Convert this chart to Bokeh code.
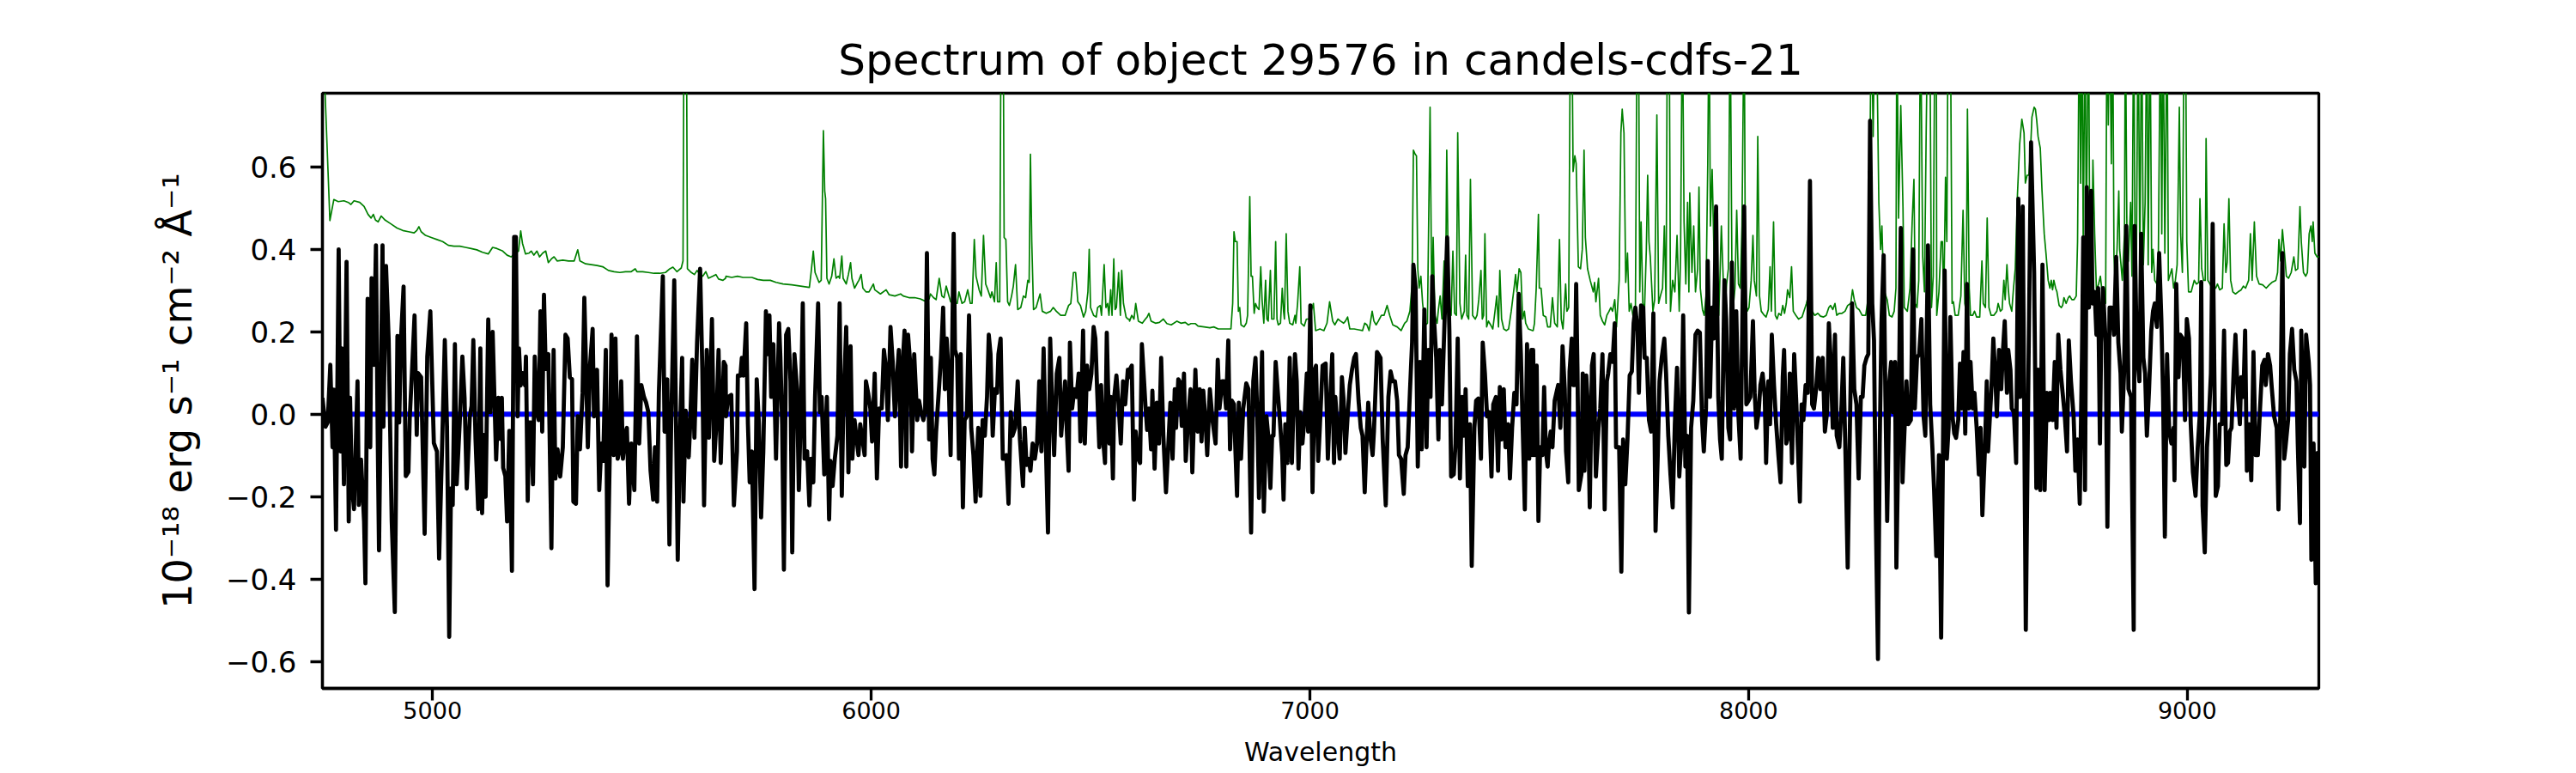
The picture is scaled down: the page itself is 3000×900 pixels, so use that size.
from bokeh.plotting import figure
from bokeh.models import Range1d, FixedTicker, CustomJSTickFormatter
from bokeh.embed import file_html
from bokeh.resources import INLINE

TITLE = "Spectrum of object 29576 in candels-cdfs-21"
X_LABEL = "Wavelength"
Y_LABEL = "10\u207b\u00b9\u2078 erg s\u207b\u00b9 cm\u207b\u00b2 \u00c5\u207b\u00b9"
X_TICKS = [5000, 6000, 7000, 8000, 9000]
Y_TICKS = [-0.6, -0.4, -0.2, 0.0, 0.2, 0.4, 0.6]
X_LIMITS = (4749, 9300)
Y_LIMITS = (-0.665, 0.779)

flux_pts_1 = [(4749,0.04),(4756,-0.03),(4761,-0.02),(4767,0.12),(4772,-0.08),(4775,0.06),(4780,-0.28),(4786,0.40),(4790,-0.09),(4793,0.16),(4798,-0.17),(4804,0.37),(4809,-0.26),(4812,0.04),(4816,-0.17),(4821,-0.23),(4829,0.08),(4832,-0.22),(4837,-0.11),(4844,-0.26),(4847,-0.41),(4852,0.28),(4858,-0.08),(4861,0.33),(4866,0.12),(4871,0.41),(4875,-0.05),(4878,-0.33),(4886,0.41),(4888,-0.03),(4894,0.36),(4900,0.18),(4907,-0.26),(4914,-0.48),(4920,0.19),(4924,-0.02),(4928,0.18),(4934,0.31),(4939,-0.15),(4945,-0.14),(4948,-0.01),(4953,0.10),(4959,0.24),(4964,-0.05),(4967,0.10),(4974,0.09),(4982,-0.29),(4988,0.14),(4995,0.25),(5003,-0.07),(5010,-0.09),(5015,-0.35),(5022,-0.07),(5028,0.18),(5033,-0.03),(5038,-0.54),(5042,-0.18),(5046,-0.22),(5051,0.17),(5055,-0.17),(5062,-0.02),(5068,0.14),(5073,0.04),(5078,-0.18),(5085,-0.005),(5089,0.02),(5093,0.18),(5098,-0.06),(5104,-0.23),(5109,0.16),(5113,-0.24),(5117,-0.05),(5121,-0.20),(5127,0.23),(5132,0.005),(5137,0.20),(5145,-0.11),(5150,0.04),(5155,-0.06),(5158,0.04),(5161,-0.13),(5166,-0.15),(5170,-0.26),(5175,-0.04),(5181,-0.38),(5186,0.43),(5190,0.43),(5194,-0.005),(5197,0.16),(5201,0.07),(5205,0.10),(5211,0.07),(5213,0.14),(5217,-0.21),(5220,-0.02),(5225,-0.02),(5229,-0.17),(5233,0.14),(5238,0.005),(5242,-0.014),(5246,0.25),(5250,-0.042),(5254,0.29),(5258,0.11),(5264,0.146),(5271,-0.325),(5276,0.156),(5280,-0.156),(5285,-0.085),(5291,-0.151),(5297,-0.08),(5303,0.193),(5308,0.184),(5313,0.09),(5318,0.085),(5321,-0.212),(5327,-0.217),(5331,-0.005),(5336,-0.085),(5342,0.052),(5346,0.283),(5349,0.156),(5354,-0.08),(5359,0.118),(5365,0.207),(5368,-0.005),(5375,0.108),(5380,-0.184),(5385,-0.071),(5389,-0.113),(5395,0.156),(5399,-0.415),(5404,-0.095),(5408,0.193),(5413,-0.099),(5417,0.184),(5422,-0.108),(5426,-0.09),(5430,0.08),(5434,-0.108),(5439,-0.047),(5443,-0.033),(5448,-0.217),(5453,-0.071),(5460,-0.184),(5466,0.189),(5471,-0.071),(5476,0.071),(5482,0.042),(5487,0.028),(5492,0.005),(5497,-0.137),(5503,-0.207),(5507,-0.08),(5512,-0.212),(5516,0.052),(5525,0.335),(5529,-0.042),(5535,0.085),(5540,-0.316),(5544,-0.028),(5551,0.325),(5559,-0.353),(5564,-0.052),(5569,0.137),(5572,-0.212),(5577,0.009),(5584,-0.104),(5587,-0.033),(5592,0.132),(5597,-0.057),(5603,0.174),(5610,0.353),(5615,0.108),(5619,-0.221),(5625,0.156),(5630,-0.057),(5637,0.231),(5642,-0.113),(5647,-0.024),(5652,0.156),(5657,-0.118),(5664,0.127),(5668,0.118)]

flux_pts_2 = [(5669,-0.005),(5674,0.042),(5681,0.047),(5687,-0.221),(5694,-0.09),(5696,0.094),(5702,0.094),(5705,0.137),(5709,0.094),(5715,0.221),(5719,-0.024),(5723,-0.165),(5728,-0.09),(5734,-0.424),(5739,0.085),(5744,-0.024),(5749,-0.25),(5754,-0.09),(5760,0.25),(5764,0.146),(5768,0.24),(5772,0.042),(5777,0.17),(5783,-0.108),(5790,0.221),(5793,0.137),(5797,-0.024),(5801,-0.377),(5806,0.193),(5811,0.207),(5816,0.08),(5820,-0.335),(5825,0.146),(5831,0.061),(5835,-0.184),(5840,0.024),(5844,0.269),(5848,-0.108),(5854,-0.09),(5859,-0.221),(5863,-0.108),(5868,-0.165),(5872,0.042),(5879,0.269),(5883,0.005),(5887,0.042),(5893,-0.146),(5899,0.042),(5904,-0.255),(5907,-0.113),(5912,-0.174),(5917,-0.108),(5923,-0.052),(5928,0.269),(5933,-0.198),(5936,-0.005),(5943,0.212),(5948,-0.141),(5953,0.165),(5957,-0.108),(5962,-0.014),(5966,-0.052),(5971,-0.099),(5975,-0.024),(5980,-0.061),(5985,-0.099),(5988,0.08),(5993,0.052),(5998,0.014),(6002,-0.066),(6008,0.099),(6013,-0.156),(6018,0.014),(6024,0.014),(6029,0.156),(6033,0.118),(6038,-0.014),(6044,0.212),(6049,0.127),(6054,-0.005),(6058,0.08),(6063,0.156),(6068,-0.127),(6072,0.127),(6076,0.203),(6080,-0.127),(6084,0.193),(6090,0.108),(6093,-0.09),(6098,0.146),(6105,-0.014),(6109,0.033),(6114,0.005),(6119,-0.014),(6123,0.009),(6127,0.391),(6132,-0.061),(6136,0.137),(6140,-0.108),(6144,-0.146),(6148,-0.042),(6155,0.071),(6159,0.137),(6164,0.259),(6168,0.061),(6172,0.184),(6176,0.108),(6181,-0.099),(6184,0.118),(6188,0.438),(6191,0.156),(6196,0.137),(6200,-0.108),(6204,0.146),(6209,-0.226),(6213,-0.014),(6218,-0.005),(6223,0.24),(6228,-0.033),(6233,-0.099),(6238,-0.212),(6241,-0.108),(6244,-0.033),(6249,-0.198),(6254,-0.014),(6259,-0.052),(6264,0.042),(6268,0.193),(6272,0.146),(6277,-0.052),(6282,0.061),(6287,0.052),(6290,0.146),(6295,0.184),(6300,-0.108),(6305,-0.108),(6308,-0.099),(6313,-0.217),(6318,0.005),(6322,-0.052),(6328,-0.033),(6334,0.08),(6339,-0.061),(6346,-0.174),(6350,-0.033),(6354,-0.123),(6359,-0.108),(6363,-0.137),(6368,-0.071),(6373,-0.108),(6378,-0.071),(6383,0.08),(6388,-0.09),(6393,0.16),(6397,-0.024),(6403,-0.287),(6408,0.184),(6412,0.042),(6417,-0.099),(6423,0.099),(6429,0.137),(6433,-0.052),(6437,0.005),(6442,0.08),(6446,-0.042),(6450,-0.137),(6453,0.174),(6458,0.014),(6463,0.061),(6468,0.042),(6473,0.099),(6477,-0.066),(6483,0.203),(6487,-0.071),(6492,0.118),(6497,0.061),(6502,0.099),(6507,0.212),(6511,0.184),(6515,0.061),(6520,-0.08),(6524,0.071),(6528,-0.052),(6533,-0.118),(6537,0.198),(6543,-0.071),(6546,0.042),(6551,-0.156),(6554,0.042),(6559,0.094),(6564,0.024),(6569,-0.071),(6574,0.08),(6579,0.024),(6585,0.108),(6588,0.09)]

flux_pts_3 = [(6589,0.108),(6594,0.118),(6599,-0.207),(6603,-0.042),(6609,-0.108),(6613,-0.118),(6617,0.17),(6622,0.08),(6625,0.024),(6629,-0.038),(6633,0.014),(6638,-0.085),(6641,0.057),(6646,-0.132),(6651,0.028),(6656,-0.071),(6661,0.137),(6666,-0.052),(6672,-0.189),(6677,-0.08),(6682,0.028),(6687,-0.108),(6692,0.061),(6695,-0.033),(6700,0.085),(6703,0.08),(6708,-0.028),(6713,0.099),(6717,-0.113),(6723,-0.005),(6728,0.061),(6732,-0.141),(6739,0.108),(6744,-0.042),(6749,0.061),(6753,-0.066),(6757,0.057),(6762,-0.014),(6766,-0.099),(6772,0.061),(6778,-0.014),(6785,-0.071),(6790,0.132),(6794,0.014),(6800,0.08),(6804,0.08),(6809,0.014),(6814,0.179),(6818,-0.085),(6822,0.033),(6827,0.024),(6830,-0.08),(6834,-0.198),(6838,0.028),(6843,-0.108),(6848,0.014),(6855,0.075),(6860,0.061),(6866,-0.287),(6871,0.08),(6876,0.137),(6880,0.0),(6884,-0.203),(6891,0.151),(6895,-0.236),(6901,-0.005),(6905,-0.052),(6910,-0.179),(6914,-0.052),(6917,-0.052),(6922,0.127),(6927,0.052),(6931,-0.005),(6937,-0.099),(6940,-0.207),(6944,-0.024),(6949,-0.118),(6954,0.137),(6959,-0.118),(6966,0.146),(6970,0.08),(6974,-0.132),(6978,0.005),(6983,-0.071),(6988,-0.005),(6993,0.099),(6996,-0.042),(7001,0.264),(7006,-0.189),(7011,0.108),(7014,0.118),(7019,-0.113),(7023,-0.024),(7029,0.118),(7036,0.123),(7041,-0.108),(7045,0.005),(7051,0.146),(7055,-0.118),(7058,0.042),(7063,-0.038),(7068,-0.108),(7073,0.09),(7077,0.033),(7081,-0.094),(7086,-0.005),(7091,0.071),(7096,0.108),(7101,0.137),(7105,0.146),(7111,0.033),(7116,-0.033),(7120,-0.052),(7125,-0.189),(7129,-0.071),(7133,0.028),(7138,-0.057),(7143,-0.099),(7146,-0.042),(7153,0.151),(7156,0.146),(7161,0.137),(7166,-0.061),(7173,-0.221),(7179,0.042),(7184,0.104),(7189,0.08),(7194,0.08),(7199,0.033),(7203,-0.099),(7208,-0.108),(7214,-0.193),(7218,-0.099),(7223,-0.08),(7228,0.052),(7233,0.174),(7236,0.363),(7241,0.306),(7246,-0.127),(7251,0.127),(7255,-0.085),(7261,0.254),(7266,-0.08),(7270,0.156),(7275,0.042),(7279,0.335),(7283,0.231),(7288,0.137),(7293,-0.061),(7296,0.156),(7301,0.024),(7306,0.193),(7313,0.429),(7318,0.203),(7322,-0.151),(7328,-0.146),(7332,-0.071),(7337,0.184),(7342,-0.156),(7347,0.042),(7351,-0.052),(7355,0.061),(7360,-0.174),(7365,-0.024),(7369,-0.368),(7375,-0.033),(7379,0.033),(7384,0.038),(7390,-0.108),(7394,0.174),(7399,0.099),(7404,-0.005),(7409,0.005),(7414,-0.151),(7418,0.024),(7424,0.042),(7429,-0.137),(7433,0.066),(7437,-0.061),(7442,0.061),(7446,-0.08),(7452,-0.024),(7456,-0.156),(7461,-0.033),(7466,0.052),(7471,0.024),(7476,0.292),(7481,0.146),(7485,-0.024),(7490,-0.231),(7495,0.17),(7500,-0.108),(7505,0.156),(7508,-0.099)]

flux_pts_4 = [(7509,0.156),(7512,-0.099),(7517,0.118),(7521,-0.259),(7525,-0.08),(7530,-0.099),(7534,0.066),(7538,-0.09),(7542,-0.127),(7545,-0.071),(7549,-0.042),(7553,-0.08),(7558,0.033),(7562,0.052),(7566,0.071),(7571,-0.033),(7576,0.165),(7581,0.061),(7584,-0.09),(7589,-0.165),(7592,0.104),(7597,0.184),(7600,0.071),(7604,0.071),(7607,0.316),(7610,0.108),(7613,-0.184),(7619,-0.146),(7622,0.099),(7626,-0.137),(7630,0.094),(7634,0.014),(7638,-0.226),(7643,0.118),(7647,0.146),(7652,-0.151),(7658,-0.033),(7662,0.014),(7667,0.146),(7672,-0.231),(7677,0.08),(7680,0.099),(7685,0.146),(7690,0.127),(7695,0.221),(7698,-0.08),(7705,-0.08),(7710,-0.382),(7714,-0.061),(7719,-0.17),(7724,-0.061),(7729,0.094),(7734,0.104),(7738,0.221),(7742,0.259),(7747,0.203),(7750,0.052),(7755,0.264),(7760,0.259),(7763,0.137),(7768,0.137),(7773,-0.014),(7778,-0.042),(7783,0.245),(7788,-0.283),(7793,-0.099),(7797,0.08),(7802,0.137),(7808,0.184),(7812,0.099),(7817,-0.052),(7822,-0.146),(7827,-0.226),(7832,-0.024),(7837,0.113),(7842,-0.151),(7846,-0.08),(7851,0.24),(7856,-0.127),(7860,-0.052),(7864,-0.481),(7869,-0.033),(7874,0.033),(7879,0.193),(7884,0.203),(7889,0.198),(7894,-0.014),(7898,-0.09),(7903,0.014),(7907,0.372),(7912,0.042),(7917,0.259),(7921,0.184),(7926,0.504),(7931,0.042),(7935,-0.061),(7939,-0.108),(7945,0.325),(7949,0.231),(7954,-0.033),(7958,-0.061),(7962,0.368),(7967,0.014),(7972,0.25),(7977,-0.005),(7982,-0.108),(7986,0.24),(7990,0.504),(7995,0.024),(8000,0.033),(8004,0.042),(8010,0.226),(8014,0.052),(8018,-0.033),(8023,0.005),(8027,0.071),(8032,0.099),(8037,0.042),(8040,-0.118),(8045,0.08),(8049,-0.024),(8053,0.193),(8058,0.071),(8063,-0.024),(8068,-0.099),(8073,-0.165),(8078,0.09),(8081,0.156),(8086,-0.071),(8091,-0.052),(8094,0.099),(8099,-0.118),(8104,0.146),(8109,0.024),(8112,-0.071),(8117,-0.212),(8121,0.024),(8125,-0.014),(8130,0.071),(8135,0.052),(8140,0.566),(8145,0.024),(8149,0.014),(8154,0.061),(8159,0.137),(8164,0.061),(8169,0.137),(8174,-0.042),(8179,0.005),(8183,0.221),(8187,0.137),(8192,-0.033),(8197,0.193),(8201,-0.052),(8207,-0.08),(8212,0.024),(8216,0.137),(8221,-0.099),(8226,-0.372),(8231,-0.033),(8236,0.269),(8241,0.061),(8246,0.024),(8251,-0.156),(8256,0.042),(8260,0.042),(8264,0.118),(8269,0.137),(8273,0.146),(8277,0.712),(8282,0.269),(8286,0.179),(8290,-0.240),(8295,-0.594),(8299,-0.071),(8303,0.221),(8308,0.386),(8312,0.042),(8316,-0.259),(8321,0.08),(8325,0.127),(8329,0.005),(8334,0.127),(8337,-0.372),(8342,-0.033),(8347,0.452),(8351,-0.165),(8355,-0.052),(8360,0.08),(8364,-0.024),(8370,-0.014),(8375,0.40),(8379,0.014),(8384,0.137),(8389,0.146),(8394,0.231),(8399,-0.005),(8403,-0.052),(8409,0.41),(8414,0.024),(8419,-0.08),(8423,-0.184),(8428,-0.344)]

flux_pts_5 = [(8429,-0.344),(8434,-0.099),(8439,-0.542),(8443,-0.108),(8447,0.349),(8452,-0.108),(8456,-0.033),(8460,0.236),(8465,-0.005),(8469,-0.047),(8473,-0.057),(8478,-0.014),(8482,0.123),(8486,0.014),(8490,0.151),(8494,-0.047),(8498,0.316),(8502,0.014),(8506,0.127),(8511,0.014),(8515,0.052),(8520,-0.033),(8525,-0.146),(8529,-0.033),(8533,-0.245),(8539,-0.08),(8543,0.08),(8546,-0.09),(8550,-0.009),(8554,0.071),(8558,0.184),(8563,0.08),(8566,-0.005),(8571,0.156),(8576,0.061),(8580,0.156),(8584,0.226),(8589,0.052),(8592,0.156),(8597,0.108),(8600,0.014),(8605,0.005),(8610,-0.118),(8615,0.523),(8619,0.042),(8625,0.504),(8628,0.061),(8632,-0.523),(8638,0.099),(8644,0.66),(8651,0.344),(8656,-0.179),(8660,0.108),(8665,-0.184),(8670,0.363),(8675,-0.184),(8680,0.052),(8685,-0.014),(8688,0.052),(8693,-0.014),(8698,0.127),(8702,-0.033),(8706,0.193),(8711,0.108),(8716,0.052),(8721,-0.005),(8726,-0.09),(8730,0.179),(8735,0.08),(8741,-0.005),(8745,-0.137),(8750,-0.061),(8755,-0.217),(8760,0.137),(8763,0.429),(8767,-0.184),(8771,0.551),(8776,0.259),(8781,0.542),(8784,0.269),(8789,0.297),(8793,0.193),(8797,0.306),(8801,-0.071),(8804,0.193),(8808,0.306),(8814,0.174),(8818,-0.273),(8823,0.259),(8828,0.259),(8833,0.193),(8838,0.382),(8843,0.174),(8848,0.099),(8851,-0.042),(8856,0.099),(8861,0.457),(8866,0.061),(8872,0.042),(8878,-0.523),(8880,0.457),(8885,0.156),(8891,0.08),(8895,0.438),(8900,0.137),(8904,0.099),(8908,-0.052),(8913,0.061),(8918,0.203),(8922,0.25),(8926,0.269),(8931,0.212),(8936,0.391),(8941,0.231),(8945,0.042),(8949,-0.297),(8954,0.146),(8959,-0.042),(8964,-0.071),(8969,-0.033),(8971,-0.16),(8975,0.316),(8980,0.09),(8984,0.193),(8990,0.184),(8995,-0.014),(8999,0.231),(9004,0.184),(9008,-0.024),(9013,-0.141),(9019,-0.198),(9024,-0.08),(9029,0.005),(9032,0.321),(9035,-0.222),(9040,-0.335),(9045,-0.08),(9050,0.005),(9054,0.099),(9058,0.462),(9065,-0.198),(9070,-0.174),(9074,-0.024),(9079,-0.024),(9084,0.203),(9089,-0.123),(9093,-0.118),(9097,-0.042),(9101,-0.033),(9106,0.108),(9110,0.193),(9115,0.052),(9120,-0.024),(9123,0.09),(9128,0.042),(9132,0.203),(9136,-0.137),(9141,-0.024),(9146,-0.16),(9151,0.151),(9156,-0.099),(9161,-0.099),(9166,0.014),(9171,0.118),(9176,0.132),(9179,0.071),(9184,0.146),(9189,0.118),(9193,0.061),(9198,-0.005),(9204,-0.033),(9208,-0.231),(9213,0.042),(9217,0.391),(9221,-0.108),(9224,-0.08),(9230,-0.014),(9234,0.146),(9239,0.207),(9244,0.108),(9249,0.08),(9252,-0.071),(9257,-0.264),(9260,0.203),(9267,-0.127),(9271,0.193),(9277,0.127),(9280,0.071),(9283,-0.353),(9288,-0.071),(9293,-0.41),(9297,-0.094),(9300,-0.316)]

# noise spectrum (green)
noise_pts_1 = [(4749,0.95),(4766,0.47),(4775,0.521),(4785,0.516),(4798,0.518),(4808,0.514),(4814,0.509),(4821,0.518),(4834,0.514),(4844,0.504),(4853,0.485),(4860,0.476),(4865,0.485),(4870,0.471),(4876,0.467),(4883,0.481),(4892,0.471),(4905,0.462),(4919,0.452),(4932,0.446),(4945,0.443),(4958,0.44),(4964,0.446),(4969,0.455),(4974,0.443),(4984,0.434),(4997,0.429),(5010,0.424),(5023,0.419),(5036,0.41),(5049,0.408),(5062,0.408),(5075,0.405),(5088,0.402),(5101,0.399),(5114,0.393),(5127,0.389),(5137,0.405),(5147,0.402),(5160,0.396),(5170,0.386),(5179,0.382),(5189,0.391),(5196,0.396),(5201,0.445),(5205,0.415),(5212,0.389),(5220,0.391),(5225,0.396),(5231,0.386),(5238,0.396),(5244,0.382),(5251,0.391),(5258,0.396),(5264,0.368),(5271,0.377),(5277,0.382),(5284,0.372),(5297,0.374),(5310,0.372),(5323,0.372),(5331,0.399),(5336,0.372),(5349,0.365),(5362,0.363),(5375,0.361),(5388,0.358),(5401,0.349),(5414,0.346),(5427,0.344),(5440,0.346),(5453,0.346),(5462,0.353),(5466,0.346),(5479,0.346),(5492,0.344),(5505,0.342),(5518,0.342),(5531,0.344),(5541,0.353),(5548,0.357),(5557,0.346),(5567,0.355),(5571,0.372),(5574,1.2),(5578,1.2),(5581,0.353),(5590,0.344),(5597,0.339),(5603,0.349),(5610,0.339),(5616,0.335),(5623,0.346),(5629,0.33),(5639,0.335),(5646,0.339),(5652,0.328),(5662,0.325),(5668,0.33)]

noise_pts_2 = [(5669,0.335),(5682,0.332),(5695,0.335),(5708,0.332),(5728,0.332),(5741,0.327),(5754,0.325),(5770,0.325),(5783,0.32),(5799,0.316),(5819,0.314),(5839,0.311),(5859,0.308),(5863,0.344),(5868,0.396),(5872,0.344),(5881,0.32),(5886,0.325),(5891,0.688),(5894,0.542),(5896,0.523),(5899,0.33),(5904,0.316),(5910,0.335),(5915,0.377),(5920,0.33),(5925,0.335),(5928,0.33),(5933,0.384),(5936,0.33),(5943,0.316),(5948,0.339),(5953,0.368),(5956,0.33),(5962,0.306),(5969,0.32),(5972,0.325),(5977,0.339),(5981,0.306),(5988,0.297),(5995,0.297),(6005,0.316),(6008,0.302),(6021,0.292),(6034,0.302),(6041,0.29),(6054,0.287),(6067,0.292),(6073,0.287),(6086,0.283),(6099,0.283),(6112,0.28),(6122,0.275),(6132,0.28),(6135,0.292),(6142,0.283),(6148,0.278),(6155,0.33),(6161,0.287),(6166,0.283),(6171,0.311),(6176,0.292),(6181,0.273),(6187,0.269),(6196,0.269),(6200,0.297),(6207,0.269),(6213,0.273),(6220,0.302),(6226,0.269),(6230,0.269),(6235,0.424),(6239,0.335),(6246,0.302),(6251,0.287),(6256,0.434),(6261,0.316),(6266,0.302),(6272,0.283),(6275,0.297),(6281,0.273),(6285,0.368),(6288,0.273),(6293,0.273),(6297,1.2),(6300,1.2),(6303,0.429),(6307,0.424),(6311,0.273),(6315,0.264),(6320,0.287),(6324,0.311),(6329,0.363),(6334,0.254),(6341,0.259),(6347,0.287),(6352,0.283),(6357,0.325),(6360,0.32),(6363,0.631),(6366,0.419),(6370,0.254),(6376,0.259),(6381,0.278),(6385,0.292),(6390,0.25),(6399,0.245),(6409,0.25),(6415,0.259),(6422,0.25),(6432,0.24),(6442,0.24),(6450,0.264),(6455,0.269),(6461,0.344),(6466,0.344),(6471,0.273),(6477,0.264),(6484,0.236),(6489,0.25),(6494,0.297),(6497,0.40),(6500,0.259),(6507,0.24),(6513,0.236),(6516,0.259),(6522,0.264),(6525,0.24),(6531,0.363),(6535,0.259),(6539,0.269),(6542,0.24),(6546,0.302),(6549,0.24),(6553,0.377),(6556,0.254),(6559,0.259),(6564,0.344),(6568,0.24),(6571,0.349),(6575,0.269),(6581,0.236),(6585,0.231),(6588,0.231)]

noise_pts_3 = [(6589,0.226),(6594,0.24),(6599,0.231),(6603,0.269),(6609,0.226),(6618,0.221),(6625,0.231),(6629,0.236),(6633,0.245),(6638,0.226),(6648,0.221),(6657,0.223),(6666,0.231),(6674,0.22),(6684,0.217),(6690,0.221),(6697,0.226),(6706,0.221),(6716,0.223),(6723,0.217),(6729,0.22),(6739,0.22),(6745,0.214),(6759,0.212),(6772,0.21),(6781,0.212),(6791,0.207),(6804,0.207),(6820,0.207),(6824,0.269),(6827,0.443),(6830,0.419),(6834,0.419),(6837,0.25),(6840,0.259),(6843,0.217),(6850,0.212),(6855,0.221),(6858,0.24),(6863,0.528),(6866,0.335),(6869,0.335),(6873,0.245),(6876,0.269),(6880,0.259),(6884,0.254),(6888,0.358),(6891,0.278),(6895,0.221),(6899,0.325),(6902,0.231),(6905,0.226),(6910,0.349),(6913,0.231),(6918,0.231),(6922,0.419),(6925,0.231),(6928,0.217),(6933,0.221),(6937,0.306),(6940,0.25),(6942,0.231),(6946,0.438),(6950,0.25),(6954,0.221),(6961,0.217),(6966,0.24),(6968,0.221),(6972,0.269),(6977,0.358),(6980,0.221),(6987,0.214),(6992,0.231),(6998,0.231),(7004,0.254),(7008,0.269),(7013,0.203),(7023,0.207),(7032,0.203),(7039,0.221),(7045,0.273),(7052,0.226),(7057,0.217),(7064,0.231),(7070,0.226),(7077,0.221),(7081,0.226),(7086,0.236),(7091,0.207),(7101,0.207),(7111,0.205),(7120,0.203),(7125,0.221),(7130,0.217),(7135,0.203),(7142,0.25),(7146,0.226),(7151,0.217),(7156,0.226),(7163,0.24),(7169,0.24),(7176,0.264),(7182,0.24),(7189,0.217),(7199,0.212),(7208,0.203),(7216,0.221),(7221,0.226),(7228,0.25),(7233,0.316),(7236,0.641),(7240,0.631),(7243,0.627),(7246,0.353),(7249,0.306),(7253,0.335),(7257,0.269),(7261,0.231),(7264,0.217),(7268,0.221),(7274,0.745),(7278,0.25),(7281,0.429),(7285,0.24),(7290,0.221),(7293,0.254),(7297,0.287),(7301,0.231),(7306,0.372),(7309,0.25),(7312,0.641),(7316,0.297),(7319,0.254),(7322,0.24),(7326,0.396),(7330,0.245),(7334,0.24),(7337,0.683),(7342,0.269),(7346,0.231),(7352,0.25),(7355,0.386),(7358,0.24),(7362,0.231),(7366,0.57),(7371,0.24),(7377,0.231),(7381,0.24),(7385,0.278),(7390,0.349),(7393,0.231),(7396,0.24),(7399,0.438),(7403,0.212),(7407,0.226),(7412,0.217),(7417,0.207),(7422,0.25),(7426,0.287),(7430,0.212),(7433,0.349),(7437,0.231),(7442,0.207),(7448,0.203),(7453,0.207),(7459,0.25),(7466,0.311),(7469,0.339),(7472,0.297),(7477,0.353),(7481,0.344),(7485,0.231),(7489,0.25),(7492,0.221),(7498,0.207),(7508,0.203)]

noise_pts_4 = [(7509,0.203),(7512,0.221),(7516,0.306),(7521,0.485),(7523,0.306),(7527,0.306),(7532,0.24),(7538,0.236),(7542,0.212),(7548,0.212),(7553,0.283),(7558,0.221),(7564,0.212),(7569,0.424),(7573,0.231),(7577,0.207),(7583,0.316),(7586,0.25),(7590,0.259),(7594,1.0),(7597,1.0),(7600,0.589),(7604,0.627),(7607,0.608),(7612,0.358),(7617,0.353),(7621,0.40),(7625,0.641),(7628,0.429),(7633,0.353),(7639,0.325),(7646,0.297),(7649,0.32),(7652,0.273),(7658,0.33),(7662,0.24),(7667,0.226),(7672,0.217),(7677,0.24),(7682,0.25),(7686,0.259),(7690,0.25),(7695,0.278),(7699,0.212),(7705,0.325),(7709,0.683),(7712,0.74),(7716,0.683),(7720,0.32),(7724,0.391),(7728,0.25),(7732,0.269),(7737,0.236),(7742,0.24),(7746,1.0),(7749,1.0),(7752,0.297),(7755,0.467),(7759,0.269),(7763,0.259),(7767,0.40),(7770,0.58),(7773,0.419),(7776,0.382),(7782,0.25),(7786,0.278),(7791,0.726),(7795,0.269),(7799,0.287),(7804,0.306),(7808,0.457),(7812,0.269),(7815,1.0),(7819,1.0),(7822,0.25),(7827,0.325),(7832,0.297),(7837,0.434),(7842,0.25),(7845,0.382),(7849,1.0),(7853,0.467),(7857,0.316),(7861,0.514),(7864,0.297),(7866,0.537),(7871,0.344),(7875,0.457),(7879,0.297),(7884,0.353),(7887,0.551),(7890,0.306),(7895,0.254),(7899,0.24),(7903,0.287),(7907,0.608),(7910,1.0),(7913,0.457),(7917,0.594),(7922,0.353),(7926,0.269),(7932,0.24),(7934,0.306),(7938,0.457),(7943,0.306),(7946,0.25),(7950,0.316),(7954,0.353),(7958,1.0),(7962,0.363),(7965,0.259),(7969,0.306),(7973,0.495),(7977,0.316),(7981,0.306),(7985,0.457),(7990,1.0),(7993,0.287),(7997,0.25),(8001,0.259),(8006,0.325),(8010,0.434),(8013,0.325),(8018,0.287),(8021,0.674),(8025,0.287),(8029,0.25),(8036,0.24),(8040,0.236),(8045,0.254),(8049,0.358),(8052,0.25),(8057,0.467),(8061,0.24),(8065,0.231),(8069,0.245),(8074,0.24),(8078,0.264),(8082,0.245),(8086,0.269),(8089,0.302),(8094,0.283),(8098,0.358),(8102,0.25),(8108,0.24),(8114,0.231),(8122,0.236),(8132,0.269),(8138,0.297),(8145,0.25),(8151,0.24),(8158,0.245),(8164,0.238),(8171,0.236),(8177,0.24),(8183,0.259),(8187,0.264),(8192,0.254),(8197,0.269),(8201,0.24),(8207,0.245),(8213,0.245),(8220,0.25),(8226,0.264),(8233,0.269),(8237,0.302),(8241,0.278),(8246,0.259),(8252,0.254),(8259,0.24),(8267,0.24),(8271,0.269),(8275,0.429),(8280,1.0),(8284,0.674),(8288,1.0),(8291,1.0),(8297,0.514),(8301,0.40),(8304,0.457),(8308,0.306),(8313,0.287),(8316,0.278),(8321,0.24),(8327,0.236),(8332,0.25),(8336,0.306),(8338,1.0),(8342,0.476),(8347,0.749),(8352,0.504),(8355,0.259),(8362,0.25),(8368,0.306),(8373,0.467),(8377,0.57),(8380,0.269),(8384,0.259),(8388,0.325),(8392,1.0),(8397,0.382),(8401,0.297),(8405,0.693),(8409,1.0),(8413,1.0),(8417,0.259),(8421,0.335),(8425,1.0),(8428,1.0)]

noise_pts_5 = [(8429,0.24),(8434,0.297),(8439,0.419),(8442,0.419),(8445,0.269),(8449,0.575),(8452,0.419),(8455,1.0),(8460,1.0),(8464,0.269),(8467,0.273),(8471,0.24),(8478,0.24),(8484,0.287),(8489,0.495),(8493,0.269),(8496,0.25),(8499,0.74),(8503,0.306),(8506,0.24),(8511,0.24),(8515,0.25),(8520,0.236),(8527,0.236),(8532,0.372),(8535,0.269),(8540,0.259),(8544,0.476),(8548,0.259),(8553,0.24),(8559,0.24),(8566,0.25),(8569,0.269),(8574,0.25),(8578,0.254),(8582,0.325),(8585,0.278),(8589,0.363),(8592,0.306),(8595,0.269),(8600,0.25),(8604,0.306),(8608,0.353),(8613,0.533),(8618,0.655),(8623,0.716),(8628,0.683),(8631,0.561),(8635,0.58),(8639,0.58),(8643,0.646),(8646,0.721),(8651,0.745),(8654,0.74),(8657,0.712),(8660,0.674),(8665,0.646),(8669,0.542),(8674,0.438),(8678,0.391),(8683,0.325),(8687,0.306),(8690,0.325),(8693,0.302),(8696,0.325),(8700,0.306),(8703,0.297),(8708,0.264),(8713,0.259),(8716,0.264),(8719,0.283),(8724,0.269),(8729,0.283),(8732,0.287),(8737,0.278),(8742,0.278),(8747,0.287),(8750,0.419),(8754,1.0),(8757,0.561),(8760,1.0),(8763,0.391),(8767,1.0),(8770,0.434),(8775,1.0),(8778,0.363),(8782,0.306),(8785,0.617),(8789,0.438),(8793,0.302),(8798,0.316),(8802,0.335),(8806,0.297),(8810,0.306),(8814,0.269),(8817,1.0),(8820,0.702),(8823,1.0),(8827,0.608),(8830,1.0),(8833,0.382),(8836,0.316),(8840,0.40),(8844,0.542),(8846,0.40),(8852,0.325),(8857,0.438),(8859,1.0),(8863,0.363),(8866,0.372),(8871,0.514),(8874,0.335),(8878,1.0),(8881,0.419),(8884,0.344),(8888,1.0),(8892,0.353),(8896,1.0),(8900,0.363),(8904,0.514),(8908,1.0),(8911,0.363),(8915,1.0),(8919,0.344),(8922,0.40),(8926,0.325),(8931,0.316),(8934,0.363),(8939,1.0),(8942,0.438),(8945,1.0),(8949,0.391),(8954,1.0),(8957,0.325),(8960,0.335),(8965,0.353),(8969,0.306),(8973,0.325),(8977,0.363),(8982,0.745),(8985,0.438),(8989,0.344),(8993,1.0),(8996,1.0),(8999,0.419),(9003,0.297),(9009,0.297),(9016,0.325),(9021,0.316),(9026,0.32),(9029,0.523),(9033,0.353),(9037,0.325),(9041,0.325),(9043,0.669),(9047,0.325),(9052,0.316),(9056,0.306),(9060,0.306),(9065,0.306),(9069,0.316),(9074,0.302),(9080,0.306),(9084,0.462),(9088,0.344),(9091,0.368),(9095,0.523),(9099,0.325),(9104,0.297),(9110,0.292),(9116,0.297),(9123,0.302),(9128,0.311),(9133,0.306),(9140,0.325),(9144,0.438),(9148,0.325),(9153,0.467),(9158,0.335),(9164,0.316),(9172,0.314),(9180,0.306),(9187,0.314),(9193,0.32),(9202,0.325),(9206,0.344),(9209,0.424),(9213,0.372),(9217,0.448),(9221,0.40),(9226,0.335),(9231,0.33),(9237,0.344),(9243,0.382),(9247,0.349),(9252,0.353),(9257,0.504),(9260,0.419),(9265,0.344),(9270,0.335),(9274,0.344),(9278,0.438),(9282,0.457),(9285,0.419),(9287,0.467),(9291,0.391),(9296,0.382),(9301,0.382)]

# model (blue): flat at zero over the full range
model_wave = [4749, 9300]
model_flux = [0.0, 0.0]


def unzip(*segments):
    w, f = [], []
    for seg in segments:
        for a, b in seg:
            w.append(a)
            f.append(b)
    return w, f


flux_wave, flux_vals = unzip(flux_pts_1, flux_pts_2, flux_pts_3, flux_pts_4, flux_pts_5)
noise_wave, noise_vals = unzip(noise_pts_1, noise_pts_2, noise_pts_3, noise_pts_4, noise_pts_5)

FONT = "DejaVu Sans"

p = figure(
    frame_width=2325, frame_height=693,
    min_border_left=375, min_border_right=300, min_border_top=108, min_border_bottom=99,
    x_range=Range1d(*X_LIMITS), y_range=Range1d(*Y_LIMITS),
    output_backend="svg", toolbar_location=None, title=TITLE,
)
p.background_fill_color = "white"
p.border_fill_color = "white"
p.xgrid.visible = False
p.ygrid.visible = False
p.outline_line_color = "black"
p.outline_line_width = 3.3

p.title.align = "center"
p.title.text_font = FONT
p.title.text_font_size = "50px"
p.title.text_font_style = "normal"
p.title.text_color = "black"
p.title.standoff = 20

p.line(noise_wave, noise_vals, line_color="#008000", line_width=1.7, line_join="round")
p.line(model_wave, model_flux, line_color="#0000ff", line_width=6.0)
p.line(flux_wave, flux_vals, line_color="black", line_width=4.8, line_join="round")

for ax in (p.xaxis[0], p.yaxis[0]):
    ax.axis_line_width = 3.3
    ax.axis_line_color = "black"
    ax.major_tick_in = 0
    ax.major_tick_out = 14
    ax.major_tick_line_width = 3.3
    ax.minor_tick_line_color = None
    ax.major_label_text_font = FONT
    ax.major_label_text_color = "black"
    ax.axis_label_text_font = FONT
    ax.axis_label_text_font_style = "normal"
    ax.axis_label_text_color = "black"

xa = p.xaxis[0]
xa.ticker = FixedTicker(ticks=X_TICKS)
xa.major_label_text_font_size = "27px"
xa.major_label_standoff = 1
xa.axis_label = X_LABEL
xa.axis_label_text_font_size = "30px"
xa.axis_label_standoff = 18

ya = p.yaxis[0]
ya.ticker = FixedTicker(ticks=Y_TICKS)
ya.formatter = CustomJSTickFormatter(code="return (tick < -1e-9 ? '\u2212' : '') + Math.abs(tick).toFixed(1);")
ya.major_label_text_font_size = "34px"
ya.major_label_standoff = 16
ya.axis_label = Y_LABEL
ya.axis_label_text_font_size = "46px"
ya.axis_label_standoff = 26

open("out.html", "w").write(file_html(p, INLINE))
